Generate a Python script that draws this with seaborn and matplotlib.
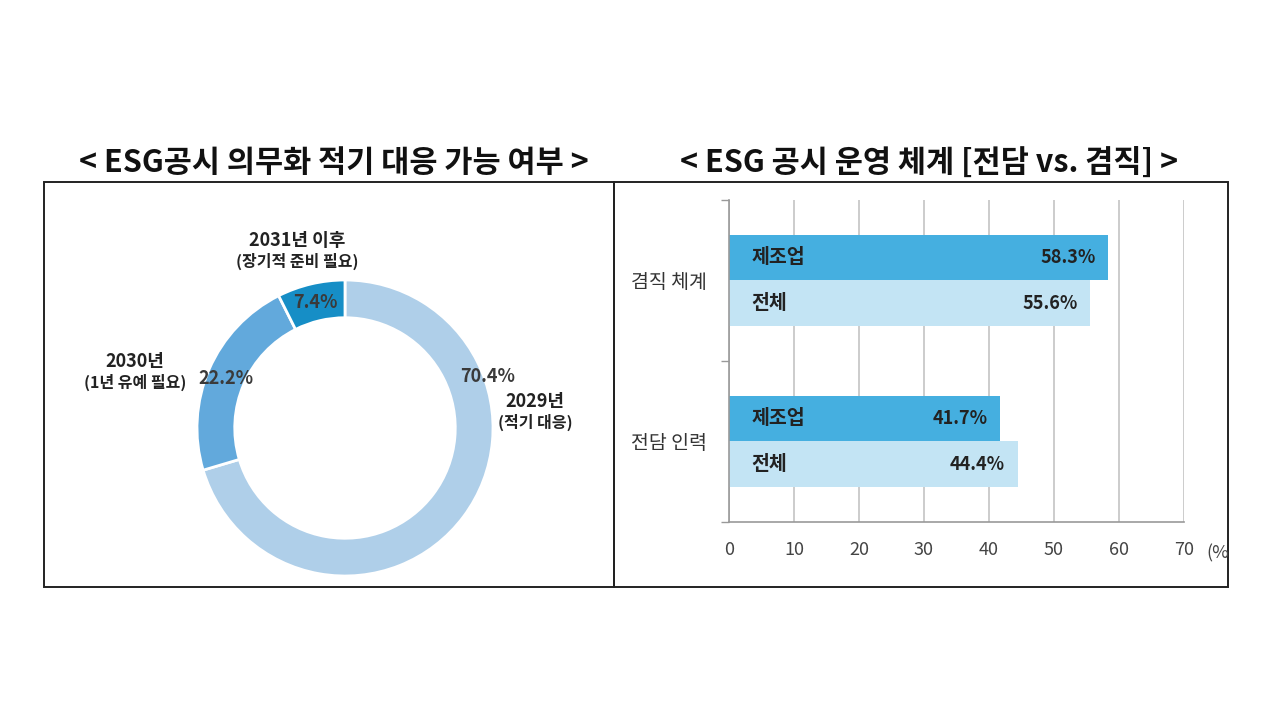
import matplotlib
matplotlib.use("Agg")
import matplotlib.pyplot as plt
import seaborn as sns
import pandas as pd
from matplotlib.patches import Rectangle
from matplotlib.ticker import FixedLocator

# ---- data ----
pie_labels = ["2029년", "2030년", "2031년 이후"]
pie_sub = ["(적기 대응)", "(1년 유예 필요)", "(장기적 준비 필요)"]
pie_values = [70.4, 22.2, 7.4]
pie_colors = ["#afcfe9", "#62a9dc", "#168ec6"]

bar_categories = ["겸직 체계", "전담 인력"]
bar_groups = ["제조업", "전체"]
bar_mfg = [58.3, 41.7]
bar_all = [55.6, 44.4]
bar_colors = ["#45afe0", "#c3e4f4"]
x_ticks = [0, 10, 20, 30, 40, 50, 60, 70]

title_left = "< ESG공시 의무화 적기 대응 가능 여부 >"
title_right = "< ESG 공시 운영 체계 [전담 vs. 겸직] >"

sns.set_theme(style="white")
plt.rcParams["font.family"] = ["Noto Sans CJK KR", "DejaVu Sans"]

W, H = 1280, 720
fig = plt.figure(figsize=(12.8, 7.2), dpi=100)
fig.patch.set_facecolor("white")

def fx(px):
    return px / W

def fy(py):
    return 1 - py / H

# frames
for (x0, x1) in [(44, 614), (614, 1228)]:
    fig.patches.append(Rectangle((fx(x0), fy(587)), fx(x1 - x0), (587 - 182) / H,
                                 transform=fig.transFigure, fill=False,
                                 edgecolor="#222222", linewidth=1.4))

fig.text(fx(334), fy(163), title_left, ha="center", va="center",
         fontsize=22, fontweight="bold", color="#111111")
fig.text(fx(929), fy(163), title_right, ha="center", va="center",
         fontsize=22, fontweight="bold", color="#111111")

# ---- donut ----
axp = fig.add_axes([fx(197), fy(576), fx(296), 296 / H])
axp.pie(pie_values, colors=pie_colors, startangle=90, counterclock=False,
        wedgeprops=dict(width=0.255, edgecolor="white", linewidth=2))
axp.set_aspect("equal")
axp.set_xlim(-1, 1)
axp.set_ylim(-1, 1)
axp.axis("off")

pct_pos = [(488, 376), (226, 378), (315, 302)]
for v, (px, py) in zip(pie_values, pct_pos):
    fig.text(fx(px), fy(py), f"{v}%", ha="center", va="center",
             fontsize=13, fontweight="bold", color="#3a3a3a")

lab_pos = [(535, 402), (135, 362), (297, 241)]
for lab, sub, (px, py) in zip(pie_labels, pie_sub, lab_pos):
    fig.text(fx(px), fy(py), lab, ha="center", va="center",
             fontsize=13, fontweight="bold", color="#222222")
    fig.text(fx(px), fy(py + 20), sub, ha="center", va="center",
             fontsize=11.5, fontweight="bold", color="#222222")

# ---- bars ----
df = pd.DataFrame({
    "cat": bar_categories * 2,
    "grp": [bar_groups[0]] * 2 + [bar_groups[1]] * 2,
    "val": bar_mfg + bar_all,
})
axb = fig.add_axes([fx(729), fy(522), fx(1184 - 729), (522 - 200) / H])
sns.barplot(data=df, y="cat", x="val", hue="grp", orient="h",
            palette=bar_colors, width=0.57, dodge=True, ax=axb,
            order=bar_categories, hue_order=bar_groups, legend=False,
            saturation=1, linewidth=0)
axb.set_xlim(0, 70)
axb.set_ylim(1.5, -0.5)
axb.set_xticks(x_ticks)
axb.set_xticklabels([str(t) for t in x_ticks], fontsize=13, color="#444444")
axb.tick_params(axis="x", length=6, width=1, color="#999999", pad=8, direction="out")
axb.set_yticks([0, 1])
axb.set_yticklabels(bar_categories, fontsize=14, color="#333333")
axb.tick_params(axis="y", length=0, pad=16)
axb.yaxis.set_minor_locator(FixedLocator([-0.5, 0.5, 1.5]))
axb.tick_params(axis="y", which="minor", length=6, width=1, color="#999999", left=True)
axb.grid(axis="x", color="#c4c4c4", linewidth=1.2)
axb.set_axisbelow(True)
for s in ["top", "right"]:
    axb.spines[s].set_visible(False)
for s in ["left", "bottom"]:
    axb.spines[s].set_color("#999999")
    axb.spines[s].set_linewidth(1.2)
axb.set_xlabel("")
axb.set_ylabel("")
axb.set_facecolor("white")

for grp, cont in zip(bar_groups, axb.containers):
    for bar in cont:
        yc = bar.get_y() + bar.get_height() / 2
        w = bar.get_width()
        axb.text(3.4, yc, grp, ha="left", va="center", fontsize=14,
                 fontweight="bold", color="#222222")
        axb.annotate(f"{w}%", xy=(w, yc), xytext=(-9, 0),
                     textcoords="offset points", ha="right", va="center",
                     fontsize=13, fontweight="bold", color="#222222")

fig.text(fx(1206), fy(553), "(%", ha="left", va="center", fontsize=13,
         color="#444444")

fig.savefig("out.png", dpi=100)
